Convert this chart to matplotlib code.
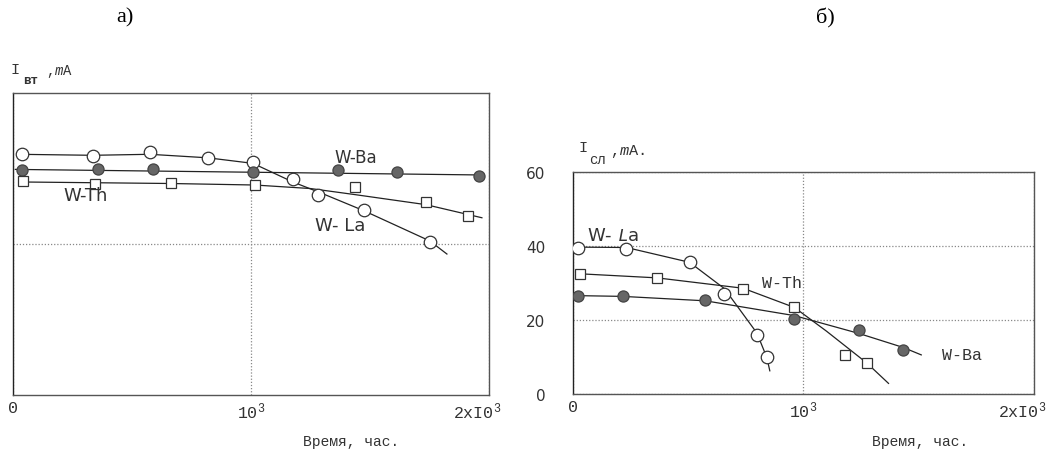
import matplotlib.pyplot as plt
from matplotlib.transforms import ScaledTranslation

plt.rcParams["mathtext.fontset"] = "custom"
plt.rcParams["mathtext.rm"] = "Liberation Mono"
plt.rcParams["mathtext.it"] = "Liberation Mono:italic"

# ---- panel a) : I_вт vs time ----
a_la_x = [40, 336, 575, 819, 1008, 1176, 1281, 1474, 1751]
a_la_y = [47.9, 47.5, 48.3, 47.1, 46.3, 42.9, 39.8, 36.8, 30.4]
a_la_curve_x = [20, 336, 575, 819, 1008, 1176, 1300, 1474, 1751, 1823]
a_la_curve_y = [47.8, 47.6, 47.8, 47.1, 46.0, 42.3, 40.0, 36.6, 30.6, 28.0]

a_ba_x = [38, 357, 588, 1008, 1365, 1613, 1957]
a_ba_y = [44.7, 44.9, 44.9, 44.3, 44.7, 44.3, 43.5]
a_ba_curve_x = [10, 1957]
a_ba_curve_y = [44.8, 43.7]

a_th_x = [42, 344, 664, 1016, 1436, 1735, 1911]
a_th_y = [42.5, 41.9, 42.1, 41.7, 41.4, 38.4, 35.6]
a_th_curve_x = [42, 664, 1016, 1250, 1436, 1735, 1970]
a_th_curve_y = [42.3, 42.0, 41.7, 41.0, 39.8, 37.8, 35.2]

# ---- panel б) : I_сл vs time ----
b_la_x = [21, 232, 506, 657, 798, 841]
b_la_y = [39.5, 39.3, 35.6, 27.0, 16.0, 9.9]
b_la_curve_x = [21, 232, 506, 657, 798, 841, 854]
b_la_curve_y = [39.7, 39.6, 35.6, 28.5, 16.5, 9.9, 6.3]

b_th_x = [30, 365, 738, 961, 1180, 1275]
b_th_y = [32.5, 31.4, 28.3, 23.6, 10.7, 8.4]
b_th_curve_x = [30, 365, 738, 961, 1100, 1275, 1369]
b_th_curve_y = [32.5, 31.4, 28.6, 23.4, 17.0, 8.4, 2.9]

b_ba_x = [21, 215, 575, 961, 1240, 1433]
b_ba_y = [26.4, 26.4, 25.4, 20.4, 17.3, 12.0]
b_ba_curve_x = [21, 215, 575, 961, 1240, 1433, 1511]
b_ba_curve_y = [26.6, 26.4, 25.2, 21.2, 16.4, 12.6, 10.6]

x_ticks = [0, 1000, 2000]
x_tick_labels = ["0", "10$^3$", "2xI0$^3$"]
b_y_ticks = [0, 20, 40, 60]

MONO = "Liberation Mono"
SANS = "DejaVu Sans"
SERIF = "Liberation Serif"
LINE = "#222222"


def style_axes(ax):
    for side in ["top", "right", "left", "bottom"]:
        ax.spines[side].set_color("#555555")
        ax.spines[side].set_linewidth(1.0)
        ax.spines[side].set_linestyle((0, (2, 1)))
    ax.spines["left"].set_color("#222222")
    ax.spines["left"].set_linestyle("-")
    ax.tick_params(length=0)
    ax.set_xlim(0, 2000)
    ax.set_xticks(x_ticks)
    ax.set_xticklabels(x_tick_labels, fontfamily=MONO, fontsize=12, color="#333333")
    # shift the last label a bit left, as in the scan
    last = ax.get_xticklabels()[-1]
    last.set_transform(last.get_transform() + ScaledTranslation(-0.12, 0, fig.dpi_scale_trans))
    ax.grid(True, color="#888888", linestyle=(0, (1, 1.5)), linewidth=0.9)


def draw_series(ax, cx, cy, mx, my, kind):
    ax.plot(cx, cy, color=LINE, linewidth=0.9, zorder=2)
    if kind == "open":
        ax.plot(mx, my, "o", ms=9, mfc="white", mec="#333333", mew=0.9, zorder=3)
    elif kind == "filled":
        ax.plot(mx, my, "o", ms=8, mfc="#666666", mec="#444444", mew=0.9, zorder=3)
    else:
        ax.plot(mx, my, "s", ms=7, mfc="white", mec="#333333", mew=0.9, zorder=3)


fig = plt.figure(figsize=(10.54, 4.6), dpi=100)

# panel a
ax1 = fig.add_axes([0.0123, 0.139, 0.4517, 0.657])
style_axes(ax1)
ax1.set_ylim(0, 60)
ax1.set_yticks([30])
ax1.set_yticklabels([])
draw_series(ax1, a_la_curve_x, a_la_curve_y, a_la_x, a_la_y, "open")
draw_series(ax1, a_ba_curve_x, a_ba_curve_y, a_ba_x, a_ba_y, "filled")
draw_series(ax1, a_th_curve_x, a_th_curve_y, a_th_x, a_th_y, "square")
ax1.text(1350, 46.3, "W-Ba", fontsize=12, fontfamily=SANS, color="#333333")
ax1.text(210, 38.8, "W-Th", fontsize=13, fontfamily=SANS, color="#333333")
ax1.text(1270, 32.8, "W- La", fontsize=13, fontfamily=SANS, color="#333333")

# panel b
ax2 = fig.add_axes([0.5436, 0.141, 0.4374, 0.483])
style_axes(ax2)
ax2.set_ylim(0, 58.5)
ax2.set_yticks(b_y_ticks)
ax2.set_yticklabels([str(v) for v in b_y_ticks], fontfamily=SANS, fontsize=11, color="#333333")
ax2.tick_params(axis="y", pad=20)
draw_series(ax2, b_la_curve_x, b_la_curve_y, b_la_x, b_la_y, "open")
draw_series(ax2, b_th_curve_x, b_th_curve_y, b_th_x, b_th_y, "square")
draw_series(ax2, b_ba_curve_x, b_ba_curve_y, b_ba_x, b_ba_y, "filled")
ax2.text(60, 41.5, "W- $\\it{L}$a", fontsize=13, fontfamily=SANS, color="#333333")
ax2.text(820, 29.0, "W-Th", fontsize=12, fontfamily=MONO, color="#333333")
ax2.text(1600, 9.5, "W-Ba", fontsize=12, fontfamily=MONO, color="#333333")


def px(x, y):
    return x / 1054, 1 - y / 460


# axis names
fig.text(*px(351, 442), "Время, час.", ha="center", va="center",
         fontfamily=MONO, fontsize=10.5, color="#333333")
fig.text(*px(920, 442), "Время, час.", ha="center", va="center",
         fontfamily=MONO, fontsize=10.5, color="#333333")

fig.text(*px(10, 70), "I", ha="left", va="center", fontfamily=MONO, fontsize=11, color="#333333")
fig.text(*px(23, 81), "вт", ha="left", va="center", fontfamily=MONO, fontsize=9,
         color="#333333", fontweight="bold")
fig.text(*px(46, 72), ",$\\it{m}$A", ha="left", va="center", fontfamily=MONO, fontsize=10,
         color="#333333")

fig.text(*px(578, 148), "I", ha="left", va="center", fontfamily=MONO, fontsize=11, color="#333333")
fig.text(*px(589, 160), "сл", ha="left", va="center", fontfamily=MONO, fontsize=10,
         color="#333333")
fig.text(*px(610, 151), ",$\\it{m}$A.", ha="left", va="center", fontfamily=MONO, fontsize=11,
         color="#333333")

# panel letters
fig.text(*px(125, 18), "а)", ha="center", va="center", fontfamily=SERIF, fontsize=16)
fig.text(*px(825, 18), "б)", ha="center", va="center", fontfamily=SERIF, fontsize=16)

fig.savefig("out.png", dpi=100, facecolor="white")
